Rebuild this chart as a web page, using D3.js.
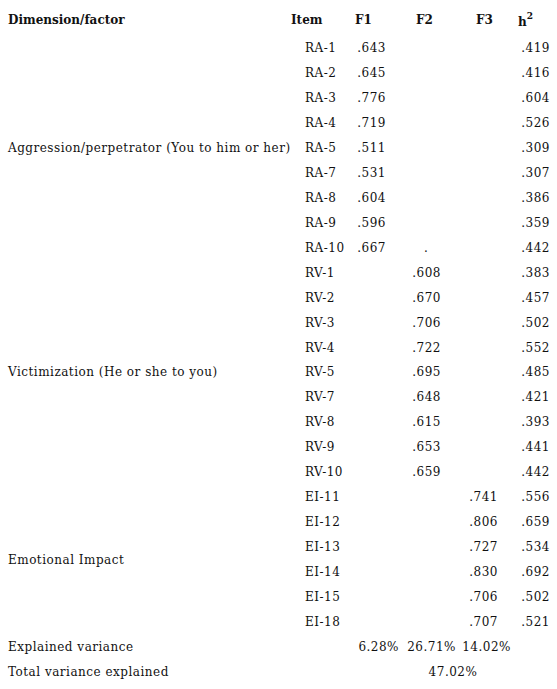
<!DOCTYPE html>
<html><head><meta charset="utf-8">
<script src="https://cdn.jsdelivr.net/npm/d3@7"></script>
<style>body{margin:0;background:#fff}</style>
</head><body>
<script>
const items = ["RA-1","RA-2","RA-3","RA-4","RA-5","RA-7","RA-8","RA-9","RA-10",
  "RV-1","RV-2","RV-3","RV-4","RV-5","RV-7","RV-8","RV-9","RV-10",
  "EI-11","EI-12","EI-13","EI-14","EI-15","EI-18"];
const f1 = [".643",".645",".776",".719",".511",".531",".604",".596",".667"];
const f2 = [".608",".670",".706",".722",".695",".648",".615",".653",".659"];
const f3 = [".741",".806",".727",".830",".706",".707"];
const h2 = [".419",".416",".604",".526",".309",".307",".386",".359",".442",
  ".383",".457",".502",".552",".485",".421",".393",".441",".442",
  ".556",".659",".534",".692",".502",".521"];
const dims = [
  {name:"Aggression/perpetrator (You to him or her)", at:4},
  {name:"Victimization (He or she to you)", at:13},
  {name:"Emotional Impact", at:20.5}];
const explained = ["6.28%","26.71%","14.02%"];
const total = "47.02%";

const W = 557, H = 689;
const svg = d3.select("body").append("svg").attr("width", W).attr("height", H)
  .style("font-family", "'DejaVu Serif', serif").style("font-size", "12px")
  .style("letter-spacing", "0.5px").style("fill", "#111");

// row centres: items 0..23, then two summary rows
const y = d3.scaleLinear().domain([0, 25]).range([48, 672]);
const base = i => y(i) + 4;

// header
const head = svg.append("g").style("font-weight", "bold").style("letter-spacing", "0px");
head.append("text").attr("x", 8).attr("y", 24).text("Dimension/factor");
[["Item",291],["F1",355],["F2",416],["F3",476]].forEach(([t,x]) =>
  head.append("text").attr("x", x).attr("y", 24).text(t));
const hh = head.append("text").attr("x", 518).attr("y", 26).text("h");
hh.append("tspan").attr("dy", -7).style("font-size", "9px").text("2");

svg.selectAll(".item").data(items).join("text").attr("class","item")
  .attr("x", 305).attr("y", (d,i) => base(i)).text(d => d);

function col(data, offset, xr) {
  svg.append("g").selectAll("text").data(data).join("text")
    .attr("x", xr).attr("y", (d,i) => base(i + offset)).attr("text-anchor","end").text(d => d);
}
col(f1, 0, 386);
col(f2, 9, 441);
col(f3, 18, 498);
col(h2, 0, 550);
svg.append("text").attr("x", 424).attr("y", base(8)).text(".");

svg.selectAll(".dim").data(dims).join("text").attr("class","dim")
  .attr("x", 8).attr("y", d => base(d.at)).text(d => d.name);

svg.append("text").attr("x", 8).attr("y", base(24)).text("Explained variance");
svg.append("text").attr("x", 8).attr("y", base(25)).text("Total variance explained");
[399,456,511].forEach((x,i) =>
  svg.append("text").attr("x", x).attr("y", base(24)).attr("text-anchor","end").text(explained[i]));
svg.append("text").attr("x", 453).attr("y", base(25)).attr("text-anchor","middle").text(total);
</script>
</body></html>
